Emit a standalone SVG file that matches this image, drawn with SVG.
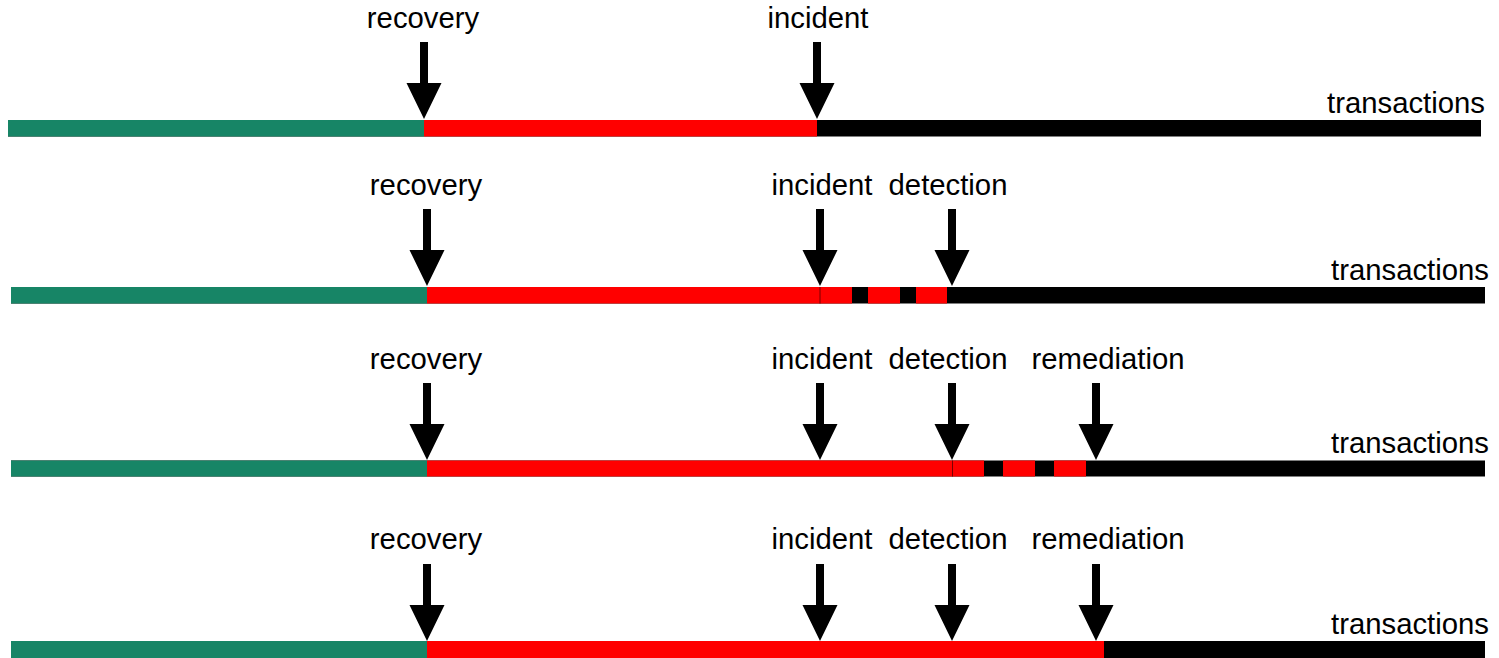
<svg xmlns="http://www.w3.org/2000/svg" width="1499" height="658" viewBox="0 0 1499 658">
  <style>
    .lbl { font-family: "Liberation Sans", Arial, sans-serif; font-size: 29.3px; fill: #000; text-anchor: middle; }
    .axis { font-family: "Liberation Sans", Arial, sans-serif; font-size: 29.3px; fill: #000; text-anchor: end; }
    .ok { fill: #178566; }
    .bad { fill: #ff0000; }
    .base { fill: #000; }
    .seam { stroke: #7a0000; stroke-width: 1; }
    .arrow { fill: #000; }
  </style>
  <defs>
    <!-- downward arrow, tip at origin -->
    <path id="down" d="M-4,-77 H4 V-36 H17.5 L0,0 L-17.5,-36 H-4 Z"/>
  </defs>
  <rect width="1499" height="658" fill="#fff"/>

  <!-- timeline 1 -->
  <g id="timeline-1">
    <rect class="base" x="8" y="120" width="1473" height="16.5"/>
    <rect class="ok" x="8" y="120" width="416" height="16.5"/>
    <rect class="bad" x="424" y="120" width="393" height="16.5"/>
    <text class="axis" x="1485" y="113">transactions</text>
  </g>
  <g id="t1-recovery"><text class="lbl" x="423" y="28">recovery</text></g>
  <g id="t1-incident"><text class="lbl" x="818" y="28">incident</text></g>

  <!-- timeline 2 -->
  <g id="timeline-2">
    <rect class="base" x="11" y="287" width="1474" height="16.5"/>
    <rect class="ok" x="11" y="287" width="416" height="16.5"/>
    <rect class="bad" x="427" y="287" width="425" height="16.5"/>
    <rect class="bad" x="868" y="287" width="32" height="16.5"/>
    <rect class="bad" x="916" y="287" width="31" height="16.5"/>
    <line class="seam" x1="820" y1="287" x2="820" y2="303.5"/>
    <text class="axis" x="1489" y="280">transactions</text>
  </g>
  <g id="t2-recovery"><text class="lbl" x="426" y="195">recovery</text></g>
  <g id="t2-incident"><text class="lbl" x="822" y="195">incident</text></g>
  <g id="t2-detection"><text class="lbl" x="948" y="195">detection</text></g>

  <!-- timeline 3 -->
  <g id="timeline-3">
    <rect class="base" x="11" y="460.5" width="1474" height="16"/>
    <rect class="ok" x="11" y="460.5" width="416" height="16"/>
    <rect class="bad" x="427" y="460.5" width="557" height="16"/>
    <rect class="bad" x="1003" y="460.5" width="32" height="16"/>
    <rect class="bad" x="1054" y="460.5" width="32" height="16"/>
    <line class="seam" x1="952.5" y1="460.5" x2="952.5" y2="476.5"/>
    <text class="axis" x="1489" y="453">transactions</text>
  </g>
  <g id="t3-recovery"><text class="lbl" x="426" y="368.5">recovery</text></g>
  <g id="t3-incident"><text class="lbl" x="822" y="368.5">incident</text></g>
  <g id="t3-detection"><text class="lbl" x="948" y="368.5">detection</text></g>
  <g id="t3-remediation"><text class="lbl" x="1108" y="368.5">remediation</text></g>

  <!-- timeline 4 -->
  <g id="timeline-4">
    <rect class="base" x="11" y="641" width="1474" height="17"/>
    <rect class="ok" x="11" y="641" width="416" height="17"/>
    <rect class="bad" x="427" y="641" width="677" height="17"/>
    <text class="axis" x="1489" y="634">transactions</text>
  </g>
  <g id="t4-recovery"><text class="lbl" x="426" y="549">recovery</text></g>
  <g id="t4-incident"><text class="lbl" x="822" y="549">incident</text></g>
  <g id="t4-detection"><text class="lbl" x="948" y="549">detection</text></g>
  <g id="t4-remediation"><text class="lbl" x="1108" y="549">remediation</text></g>

  <!-- event arrows -->
  <g id="connectors" class="arrow">
    <use href="#down" x="424" y="119"/>
    <use href="#down" x="817" y="119"/>

    <use href="#down" x="427" y="286"/>
    <use href="#down" x="820" y="286"/>
    <use href="#down" x="952" y="286"/>

    <use href="#down" x="427" y="460"/>
    <use href="#down" x="820" y="460"/>
    <use href="#down" x="952" y="460"/>
    <use href="#down" x="1096" y="460"/>

    <use href="#down" x="427" y="641"/>
    <use href="#down" x="820" y="641"/>
    <use href="#down" x="952" y="641"/>
    <use href="#down" x="1096" y="641"/>
  </g>
</svg>
